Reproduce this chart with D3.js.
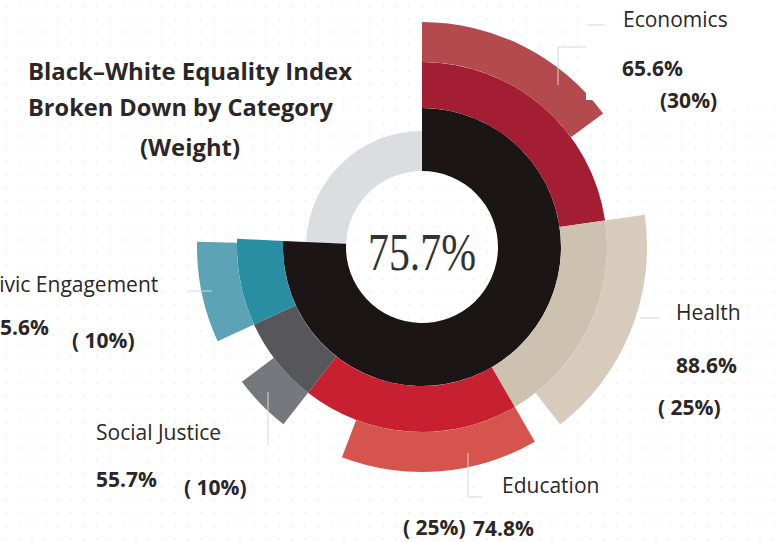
<!DOCTYPE html>
<html>
<head>
<meta charset="utf-8">
<script src="https://cdn.jsdelivr.net/npm/d3@7"></script>
<style>
  body { margin: 0; background: #fff; }
  svg { display: block; }
</style>
</head>
<body>
<div id="chart"></div>
<script>
/* Black-White Equality Index, radial breakdown by category. */

const categories = ["Economics", "Health", "Education", "Social Justice", "Civic Engagement"];
const weights = [30, 25, 25, 10, 10];
const scores = [65.6, 88.6, 74.8, 55.7, 95.6];
const overall = 75.7;

const width = 777, height = 542,
      cx = 422, cy = 247;

// radii of the rings
const rHole = 76, rGray = 116, rCore = 139, rIn = 185, rOut = 225;

const innerColors = ["#a31d33", "#cdc1b0", "#c72030", "#56565b", "#2a8ea2"];
const outerColors = ["#b34b4e", "#d7ccbc", "#d5544d", "#77787d", "#5ba3b5"];

// label positions: name, value, weight
const labelPos = [
    {name: [623, 27], value: [622, 76], weight: [660, 108], gap: false},
    {name: [676, 320], value: [676, 373], weight: [658, 415], gap: true},
    {name: [502, 493], value: [473, 536], weight: [403, 535], gap: true},
    {name: [96, 440], value: [96, 487], weight: [184, 495], gap: true},
    {name: [-14, 292], value: [-12, 335], weight: [72, 348], gap: true}
];

const data = categories.map((c, i) => ({name: c, weight: weights[i], score: scores[i], i: i}));

let svg = d3.select("#chart")
    .append("svg")
    .attr("width", width)
    .attr("height", height)
    .attr("viewBox", [0, 0, width, height]);

// faint dotted background
const defs = svg.append("defs");
defs.append("pattern")
    .attr("id", "dots")
    .attr("width", 13).attr("height", 13)
    .attr("patternUnits", "userSpaceOnUse")
  .append("circle")
    .attr("cx", 6).attr("cy", 6).attr("r", 1)
    .attr("fill", "#eeeeee");

svg.append("rect")
    .attr("width", width).attr("height", height)
    .attr("fill", "url(#dots)");

// angle scale: percent -> radians
const angle = d3.scaleLinear().domain([0, 100]).range([0, 2 * Math.PI]);

const pie = d3.pie()
    .sort(null)
    .value(d => d.weight)
    .startAngle(0)
    .endAngle(angle(overall));

const arcs = pie(data);

const g = svg.append("g").attr("transform", `translate(${cx},${cy})`);

// remaining part of the index (gray)
g.append("path")
    .attr("d", d3.arc()({innerRadius: rHole, outerRadius: rGray,
        startAngle: angle(overall), endAngle: angle(100)}))
    .attr("fill", "#dcdde0");

// overall index ring
g.append("path")
    .attr("d", d3.arc()({innerRadius: rHole, outerRadius: rCore,
        startAngle: 0, endAngle: angle(overall)}))
    .attr("fill", "#1b1515");

// category bands (full weight)
g.selectAll(".band")
    .data(arcs)
    .join("path")
    .attr("class", "band")
    .attr("d", d => d3.arc()({innerRadius: rCore, outerRadius: rIn,
        startAngle: d.startAngle, endAngle: d.endAngle}))
    .attr("fill", d => innerColors[d.data.i]);

// category scores (share of the band)
g.selectAll(".score")
    .data(arcs)
    .join("path")
    .attr("class", "score")
    .attr("d", d => d3.arc()({innerRadius: rIn, outerRadius: rOut,
        startAngle: d.startAngle,
        endAngle: d.startAngle + (d.endAngle - d.startAngle) * d.data.score / 100}))
    .attr("fill", d => outerColors[d.data.i]);

// white patches behind some labels
svg.append("rect").attr("x", 586).attr("y", 0).attr("width", 191).attr("height", 100).attr("fill", "#fff");
svg.append("rect").attr("x", 482).attr("y", 464).attr("width", 130).attr("height", 40).attr("fill", "#fff");

// thin leader lines
const leaders = [
    [[587, 25], [605, 25]],
    [[558, 85], [558, 47], [586, 47]],
    [[640, 318], [660, 318]],
    [[468, 453], [468, 497], [482, 497]],
    [[268, 392], [268, 445]],
    [[188, 291], [212, 291]]
];
svg.selectAll(".leader")
    .data(leaders)
    .join("path")
    .attr("class", "leader")
    .attr("d", d3.line())
    .attr("fill", "none")
    .attr("stroke", "#d6d6d6")
    .attr("stroke-width", 1);

// center value
svg.append("text")
    .attr("x", 368).attr("y", 270)
    .attr("textLength", 108)
    .attr("lengthAdjust", "spacingAndGlyphs")
    .style("font-family", "'Liberation Serif', 'DejaVu Serif', serif")
    .style("font-size", "52px")
    .style("fill", "#333")
    .text(overall + "%");

// title
const title = svg.append("g")
    .style("font-family", "'Open Sans', sans-serif")
    .style("font-weight", 700)
    .style("font-size", "24px")
    .style("fill", "#2b2727");

title.append("text").attr("x", 28).attr("y", 80)
    .attr("textLength", 324).attr("lengthAdjust", "spacingAndGlyphs")
    .text("Black\u2013White Equality Index");
title.append("text").attr("x", 28).attr("y", 116)
    .attr("textLength", 305).attr("lengthAdjust", "spacingAndGlyphs")
    .text("Broken Down by Category");
title.append("text").attr("x", 140).attr("y", 156)
    .attr("textLength", 100).attr("lengthAdjust", "spacingAndGlyphs")
    .text("(Weight)");

// category labels
const labels = svg.selectAll(".label")
    .data(data)
    .join("g")
    .attr("class", "label")
    .style("font-family", "'Open Sans', sans-serif")
    .style("fill", "#2b2727");

labels.append("text")
    .attr("x", d => labelPos[d.i].name[0])
    .attr("y", d => labelPos[d.i].name[1])
    .style("font-size", "21px")
    .style("font-weight", 500)
    .text(d => d.name);

labels.append("text")
    .attr("x", d => labelPos[d.i].value[0])
    .attr("y", d => labelPos[d.i].value[1])
    .style("font-size", "21px")
    .style("font-weight", 700)
    .text(d => d.score + "%");

labels.append("text")
    .attr("x", d => labelPos[d.i].weight[0])
    .attr("y", d => labelPos[d.i].weight[1])
    .style("font-size", "21px")
    .style("font-weight", 700)
    .text(d => (labelPos[d.i].gap ? "( " : "(") + d.weight + "%)");
</script>
</body>
</html>
